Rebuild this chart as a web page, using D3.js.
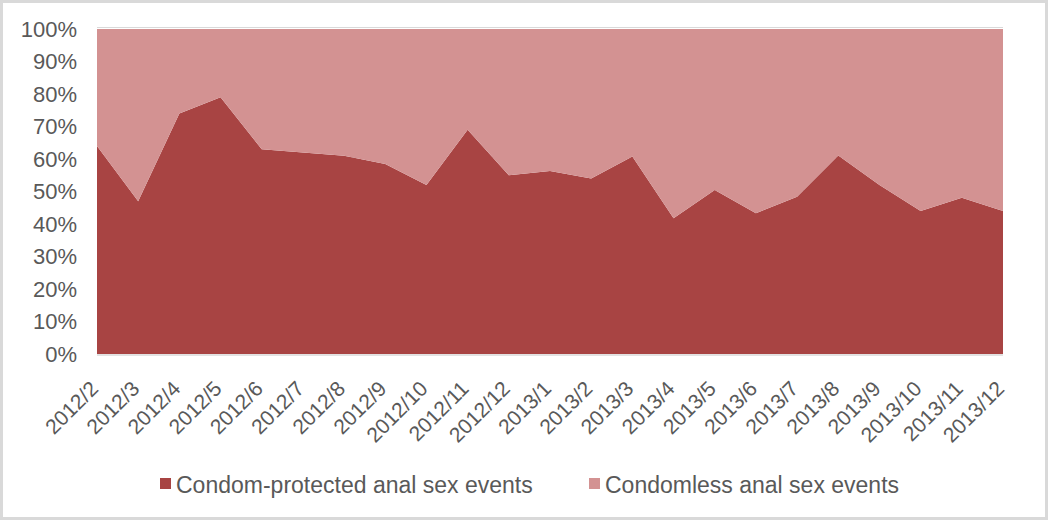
<!DOCTYPE html>
<html>
<head>
<meta charset="utf-8">
<script src="https://cdn.jsdelivr.net/npm/d3@7"></script>
<style>
	body { margin: 0; background: #ffffff; }
	text { font-family: "Liberation Sans", Arial, sans-serif; fill: #595959; }
</style>
</head>
<body>
<div id="chart"></div>
<script>
/** Data **/
var months = ["2012/2", "2012/3", "2012/4", "2012/5", "2012/6", "2012/7", "2012/8", "2012/9",
	"2012/10", "2012/11", "2012/12", "2013/1", "2013/2", "2013/3", "2013/4", "2013/5",
	"2013/6", "2013/7", "2013/8", "2013/9", "2013/10", "2013/11", "2013/12"];

// share of events, in percent
var protectedPct  = [64, 47, 74, 79, 63, 62, 61, 58.5, 52, 69, 55, 56.3, 54, 60.8, 41.8, 50.5, 43.3, 48.4, 61.1, 52, 44, 48.1, 44];
var condomlessPct = [36, 53, 26, 21, 37, 38, 39, 41.5, 48, 31, 45, 43.7, 46, 39.2, 58.2, 49.5, 56.7, 51.6, 38.9, 48, 56, 51.9, 56];

var yTicks = [0, 10, 20, 30, 40, 50, 60, 70, 80, 90, 100];

var seriesNames = ["Condom-protected anal sex events", "Condomless anal sex events"];
var seriesColors = ["#a84443", "#d39292"];

function drawChart()
{
	var width = 1050;
	var height = 521;
	var plot = { left: 97, right: 1003, top: 29, bottom: 354 };

	var svg = d3.select("#chart")
		.append("svg")
		.attr("width", width)
		.attr("height", height);

	// outer frame
	svg.append("rect")
		.attr("x", 1.5)
		.attr("y", 1.5)
		.attr("width", width - 5)
		.attr("height", height - 4)
		.attr("fill", "none")
		.attr("stroke", "#d9d9d9")
		.attr("stroke-width", 3);

	var x = d3.scalePoint()
		.domain(months)
		.range([plot.left, plot.right]);

	var y = d3.scaleLinear()
		.domain([0, 100])
		.range([plot.bottom, plot.top]);

	// build table for stack
	var table = months.map(function(m, i)
	{
		return { month: m, prot: protectedPct[i], less: condomlessPct[i] };
	});

	var stack = d3.stack().keys(["prot", "less"]);
	var layers = stack(table);

	// gridlines (mostly hidden by the areas)
	svg.append("g")
		.selectAll("line")
		.data(yTicks)
		.enter()
		.append("line")
		.attr("x1", plot.left)
		.attr("x2", plot.right)
		.attr("y1", function(d) { return Math.round(y(d)) - 1.5; })
		.attr("y2", function(d) { return Math.round(y(d)) - 1.5; })
		.attr("stroke", "#d9d9d9")
		.attr("stroke-width", 1);

	var area = d3.area()
		.x(function(d) { return x(d.data.month); })
		.y0(function(d) { return y(d[0]); })
		.y1(function(d) { return y(d[1]); });

	svg.append("g")
		.selectAll("path")
		.data(layers)
		.enter()
		.append("path")
		.attr("d", area)
		.attr("fill", function(d, i) { return seriesColors[i]; });

	// bottom axis line
	svg.append("line")
		.attr("x1", plot.left)
		.attr("x2", plot.right)
		.attr("y1", plot.bottom + 1)
		.attr("y2", plot.bottom + 1)
		.attr("stroke", "#d9d9d9")
		.attr("stroke-width", 1.5);

	// y axis labels
	var yAxis = d3.axisLeft(y)
		.tickValues(yTicks)
		.tickSize(0)
		.tickPadding(0)
		.tickFormat(function(d) { return d + "%"; });

	var gy = svg.append("g")
		.attr("transform", "translate(77,0)")
		.call(yAxis);
	gy.select(".domain").remove();
	gy.selectAll("text")
		.attr("font-size", "22px")
		.attr("font-family", "Liberation Sans, Arial, sans-serif")
		.attr("fill", "#595959");

	// x axis labels, rotated
	var xAxis = d3.axisBottom(x)
		.tickSize(0)
		.tickPadding(0);

	var gx = svg.append("g")
		.attr("transform", "translate(0," + plot.bottom + ")")
		.call(xAxis);
	gx.select(".domain").remove();
	gx.selectAll("text")
		.attr("font-size", "21px")
		.attr("font-family", "Liberation Sans, Arial, sans-serif")
		.attr("fill", "#595959")
		.attr("text-anchor", "end")
		.attr("dy", "0")
		.attr("transform", "translate(2,36) rotate(-45)");

	// legend
	var legendX = [160, 589];

	var legend = svg.append("g")
		.selectAll("g")
		.data(seriesNames)
		.enter()
		.append("g")
		.attr("transform", function(d, i) { return "translate(" + legendX[i] + ",478)"; });

	legend.append("rect")
		.attr("width", 11)
		.attr("height", 11)
		.attr("fill", function(d, i) { return seriesColors[i]; });

	legend.append("text")
		.attr("x", 16)
		.attr("y", 15)
		.attr("font-size", "23px")
		.text(function(d) { return d; });
}

drawChart();
</script>
</body>
</html>
